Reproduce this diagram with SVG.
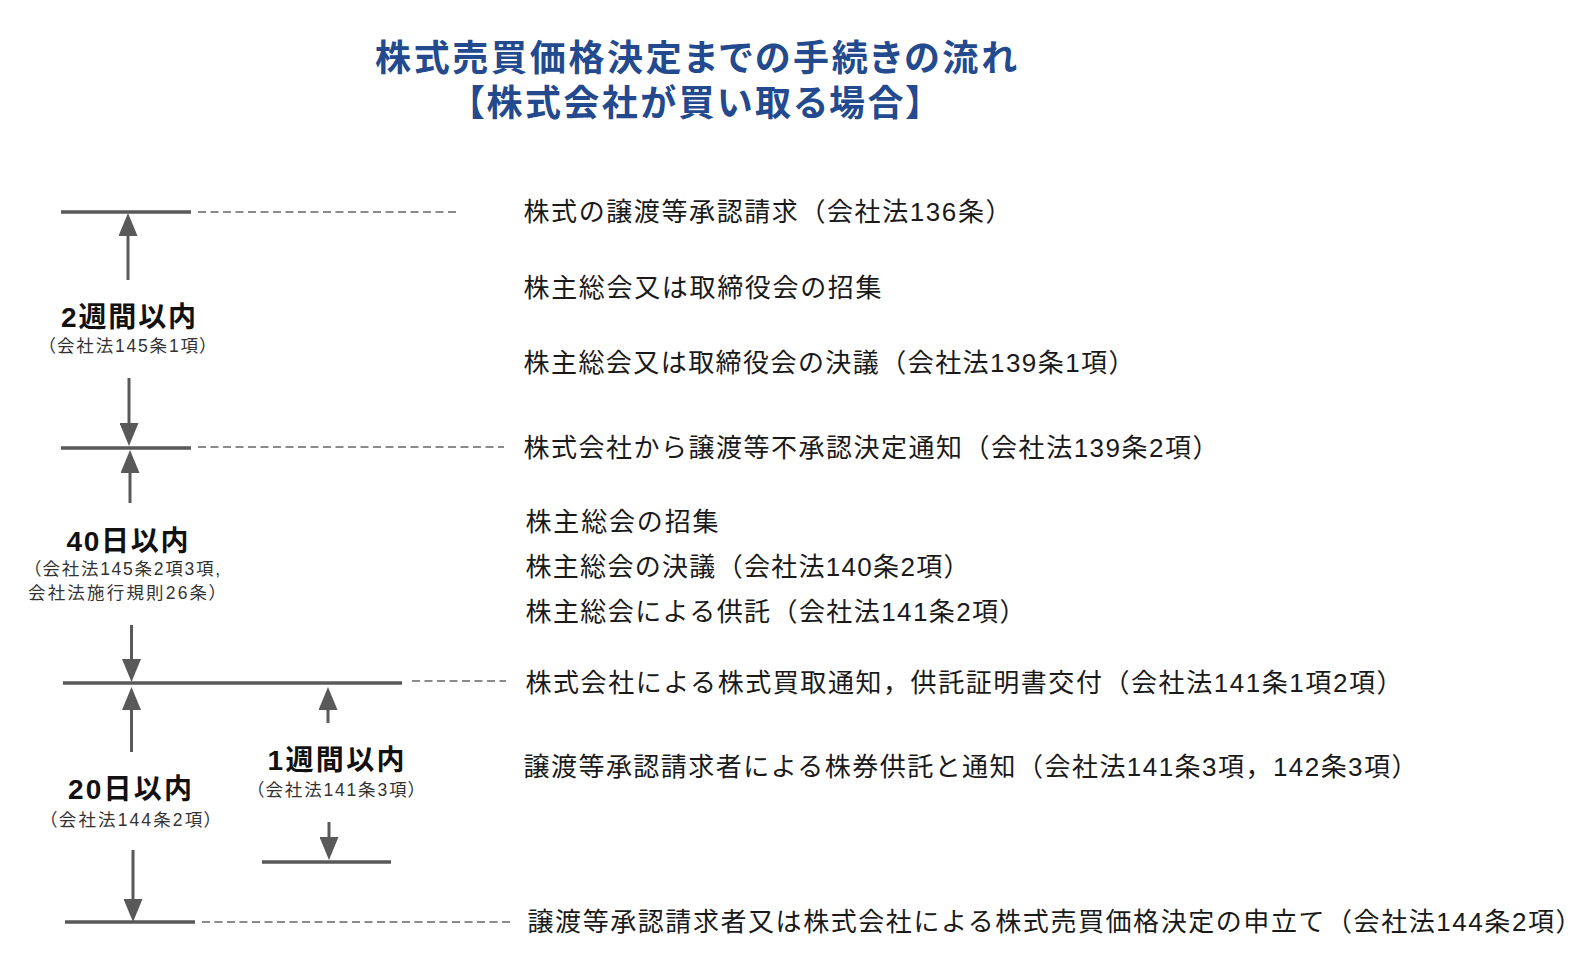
<svg xmlns="http://www.w3.org/2000/svg" width="1582" height="972" viewBox="0 0 1582 972">
<style>
.title{font-family:"Liberation Sans","Noto Sans CJK JP",sans-serif;font-weight:bold;font-size:36px;fill:#234a8e;text-anchor:middle;font-feature-settings:"palt"}
.step{font-family:"Liberation Sans","Noto Sans CJK JP",sans-serif;font-size:26px;fill:#1a1a1a}
.period{font-family:"Liberation Sans","Noto Sans CJK JP",sans-serif;font-weight:bold;font-size:28px;fill:#111;text-anchor:middle}
.law{font-family:"Liberation Sans","Noto Sans CJK JP",sans-serif;font-size:17.5px;fill:#333;text-anchor:middle;font-feature-settings:"palt"}
.bar{stroke:#595959;stroke-width:3.5;fill:none}
.dash{stroke:#666;stroke-width:1.5;stroke-dasharray:8 4.5;fill:none}
.arr{stroke:#595959;stroke-width:3;fill:none;marker-end:url(#ah)}
</style>
<defs>
<marker id="ah" markerUnits="userSpaceOnUse" markerWidth="24" markerHeight="19" refX="11" refY="9.5" orient="auto">
<path d="M0,0 L23,9.5 L0,19 z" fill="#595959"/>
</marker>
</defs>
<rect width="1582" height="972" fill="#ffffff"/>
<g id="title">
<text class="title" x="696" y="70.5" textLength="642">株式売買価格決定までの手続きの流れ</text>
<text class="title" x="695" y="116" textLength="458">【株式会社が買い取る場合】</text>
</g>
<g id="timeline-bars">
<line class="bar" x1="61" y1="212" x2="191" y2="212"/>
<line class="bar" x1="61" y1="448" x2="191" y2="448"/>
<line class="bar" x1="63" y1="683" x2="402" y2="683"/>
<line class="bar" x1="262" y1="862" x2="391" y2="862"/>
<line class="bar" x1="65" y1="922" x2="195" y2="922"/>
</g>
<g id="connectors">
<line class="dash" x1="198" y1="212" x2="458" y2="212"/>
<line class="dash" x1="198" y1="447" x2="504" y2="447"/>
<line class="dash" x1="412" y1="681" x2="506" y2="681"/>
<line class="dash" x1="202" y1="922" x2="510" y2="922"/>
<line class="arr" x1="128" y1="280" x2="128" y2="225"/>
<line class="arr" x1="129" y1="378" x2="129" y2="434"/>
<line class="arr" x1="130" y1="503" x2="130" y2="462"/>
<line class="arr" x1="131.5" y1="625" x2="131.5" y2="670"/>
<line class="arr" x1="131.5" y1="752" x2="131.5" y2="699"/>
<line class="arr" x1="328" y1="723" x2="328" y2="699"/>
<line class="arr" x1="329" y1="822" x2="329" y2="848"/>
<line class="arr" x1="133" y1="850" x2="133" y2="910"/>
</g>
<g id="period-2weeks">
<text class="period" x="128.5" y="327" textLength="135">2週間以内</text>
<text class="law" x="127.5" y="352" textLength="162">（会社法145条1項）</text>
</g>
<g id="period-40days">
<text class="period" x="127.5" y="551" textLength="122">40日以内</text>
<text class="law" x="126" y="575" textLength="188">（会社法145条2項3項,</text>
<text class="law" x="123" y="599" textLength="190">会社法施行規則26条）</text>
</g>
<g id="period-20days">
<text class="period" x="130" y="799" textLength="124">20日以内</text>
<text class="law" x="130.5" y="825.5" textLength="165">（会社法144条2項）</text>
</g>
<g id="period-1week">
<text class="period" x="336" y="770" textLength="137">1週間以内</text>
<text class="law" x="336" y="795.5" textLength="162">（会社法141条3項）</text>
</g>
<g id="steps">
<text class="step" x="523.5" y="220.5" textLength="488">株式の譲渡等承認請求（会社法136条）</text>
<text class="step" x="523.5" y="297" textLength="358">株主総会又は取締役会の招集</text>
<text class="step" x="523.5" y="371.5" textLength="611">株主総会又は取締役会の決議（会社法139条1項）</text>
<text class="step" x="523.5" y="457" textLength="695">株式会社から譲渡等不承認決定通知（会社法139条2項）</text>
<text class="step" x="525.5" y="531" textLength="193">株主総会の招集</text>
<text class="step" x="525.5" y="576" textLength="444">株主総会の決議（会社法140条2項）</text>
<text class="step" x="525.5" y="620.5" textLength="500">株主総会による供託（会社法141条2項）</text>
<text class="step" x="525.5" y="692" textLength="877">株式会社による株式買取通知，供託証明書交付（会社法141条1項2項）</text>
<text class="step" x="523.5" y="776" textLength="894">譲渡等承認請求者による株券供託と通知（会社法141条3項，142条3項）</text>
<text class="step" x="527.5" y="931" textLength="1054">譲渡等承認請求者又は株式会社による株式売買価格決定の申立て（会社法144条2項）</text>
</g>
</svg>
